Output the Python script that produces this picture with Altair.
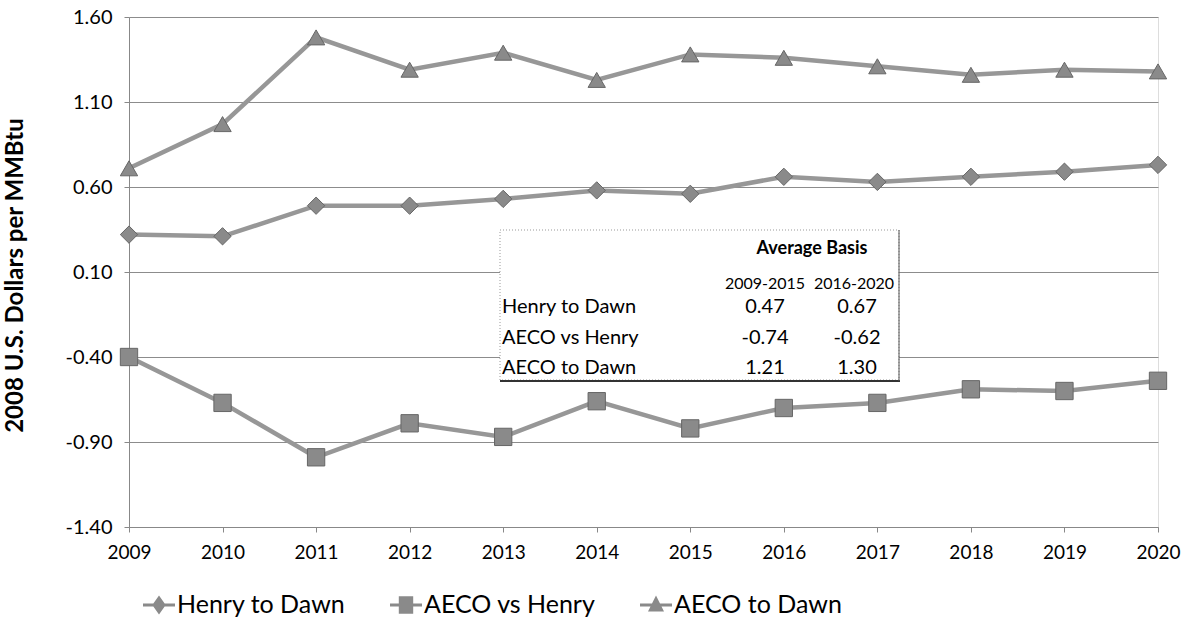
import altair as alt
import pandas as pd

# Annual basis differentials, 2008 U.S. dollars per MMBtu
years = list(range(2009, 2021))
series_names = ["Henry to Dawn", "AECO vs Henry", "AECO to Dawn"]
henry_to_dawn = [0.32, 0.31, 0.49, 0.49, 0.53, 0.58, 0.56, 0.66, 0.63, 0.66, 0.69, 0.73]
aeco_vs_henry = [-0.40, -0.67, -0.99, -0.79, -0.87, -0.66, -0.82, -0.70, -0.67, -0.59, -0.60, -0.54]
aeco_to_dawn = [0.71, 0.97, 1.48, 1.29, 1.39, 1.23, 1.38, 1.36, 1.31, 1.26, 1.29, 1.28]
y_ticks = [-1.40, -0.90, -0.40, 0.10, 0.60, 1.10, 1.60]
period_labels = ["2009-2015", "2016-2020"]

FONT = "Lato"
LINE_GREY = "#979797"
MARK_GREY = "#8a8a8a"
MARK_EDGE = "#666666"

values = {
    "Henry to Dawn": henry_to_dawn,
    "AECO vs Henry": aeco_vs_henry,
    "AECO to Dawn": aeco_to_dawn,
}
rows = []
for name in series_names:
    for yr, v in zip(years, values[name]):
        rows.append({"year": yr, "series": name, "value": v})
df = pd.DataFrame(rows)

# Period averages shown in the inset table
avg = (
    df.assign(period=df["year"].map(lambda y: period_labels[0] if y <= 2015 else period_labels[1]))
    .groupby(["series", "period"])["value"].mean()
)

x_enc = alt.X(
    "year:Q",
    scale=alt.Scale(domain=[2009, 2020], nice=False, zero=False),
    axis=alt.Axis(
        values=years, format="d", title=None, grid=False,
        labelFont=FONT, labelFontSize=19, labelColor="#000", labelFlush=False,
        tickSize=5, tickColor="#888", labelPadding=11,
        domainColor="#888", domainWidth=1,
    ),
)
y_enc = alt.Y(
    "value:Q",
    scale=alt.Scale(domain=[-1.4, 1.6], nice=False, zero=False),
    axis=alt.Axis(
        values=y_ticks, title="2008 U.S. Dollars per MMBtu",
        labelExpr="replace(format(datum.value, '.2f'), '\u2212', '-')",
        labelFont=FONT, labelFontSize=20, labelColor="#000",
        tickSize=5, tickColor="#888", labelPadding=12,
        grid=True, gridColor="#8c8c8c", gridWidth=1,
        domainColor="#888", domainWidth=1,
        titleFont=FONT, titleFontSize=24, titleFontWeight="bold", titleColor="#000",
        titleX=-114, titleY=258, titleAngle=270, titleAlign="center", titleBaseline="middle",
    ),
)

base = alt.Chart(df)

lines = base.mark_line(color=LINE_GREY, strokeWidth=4.5).encode(
    x=x_enc, y=y_enc, detail="series:N"
)

point_shapes = ["diamond", "square", "triangle-up"]
points = base.mark_point(filled=True, opacity=1, color=MARK_GREY, stroke=MARK_EDGE, strokeWidth=1, size=300).encode(
    x=x_enc, y=y_enc,
    shape=alt.Shape("series:N", scale=alt.Scale(domain=series_names, range=point_shapes), legend=None),
)

# Legend symbols: a short line with the series marker in the middle
legend_paths = [
    "M-1,-0.1L1,-0.1L1,0.1L-1,0.1Z M0,-0.6L0.42,0L0,0.6L-0.42,0Z",
    "M-1,-0.1L1,-0.1L1,0.1L-1,0.1Z M-0.45,-0.55L0.45,-0.55L0.45,0.55L-0.45,0.55Z",
    "M-1,-0.1L1,-0.1L1,0.1L-1,0.1Z M0,-0.6L0.5,0.4L-0.5,0.4Z",
]
legend_layer = base.mark_point(filled=True, opacity=1, color=MARK_GREY).encode(
    shape=alt.Shape(
        "series:N",
        scale=alt.Scale(domain=series_names, range=legend_paths),
        legend=alt.Legend(
            title=None, orient="none", direction="horizontal",
            legendX=14, legendY=572,
            symbolSize=1024, symbolFillColor=MARK_GREY, symbolStrokeColor=MARK_GREY,
            symbolStrokeWidth=0, symbolOpacity=1,
            labelFont=FONT, labelFontSize=25, labelColor="#000", labelOffset=2,
            labelLimit=0, columnPadding=44,
        ),
    ),
).transform_filter("false")

# Inset table: white box with border
box_df = pd.DataFrame([{"k": 1}])
box = alt.Chart(box_df).mark_rect(
    fill="white", stroke="#999", strokeWidth=1, strokeDash=[1, 2]
).encode(x=alt.value(371), x2=alt.value(770), y=alt.value(213), y2=alt.value(363))
box_bottom = alt.Chart(box_df).mark_rule(color="#333", strokeWidth=2).encode(
    x=alt.value(371), x2=alt.value(771), y=alt.value(364)
)
box_right = alt.Chart(box_df).mark_rule(color="#555", strokeWidth=1).encode(
    x=alt.value(770), y=alt.value(213), y2=alt.value(364)
)

def text_layer(txt, x, y, align, size=20, weight="normal"):
    return alt.Chart(box_df).mark_text(
        text=txt, align=align, baseline="middle", font=FONT, fontSize=size,
        fontWeight=weight, color="#000",
    ).encode(x=alt.value(x), y=alt.value(y))

table_layers = [
    text_layer("Average Basis", 683, 232, "center", size=18, weight="bold"),
    text_layer(period_labels[0], 636, 267, "center", size=16),
    text_layer(period_labels[1], 725, 267, "center", size=16),
]
row_y = [290, 321, 351]
for name, ry in zip(series_names, row_y):
    table_layers.append(text_layer(name, 373, ry, "left"))
    table_layers.append(text_layer(f"{avg[(name, period_labels[0])]:.2f}", 636, ry, "center"))
    table_layers.append(text_layer(f"{avg[(name, period_labels[1])]:.2f}", 728, ry, "center"))

chart = alt.layer(
    lines, box, box_bottom, box_right, *table_layers, points, legend_layer
).resolve_scale(shape="independent").properties(
    width=1029, height=510,
    autosize=alt.AutoSizeParams(type="none"),
    padding={"left": 129, "top": 17, "right": 33, "bottom": 106},
).configure_view(stroke=None).configure(background="white")

chart.save("out.html", embed_options={"renderer": "svg", "actions": False})
